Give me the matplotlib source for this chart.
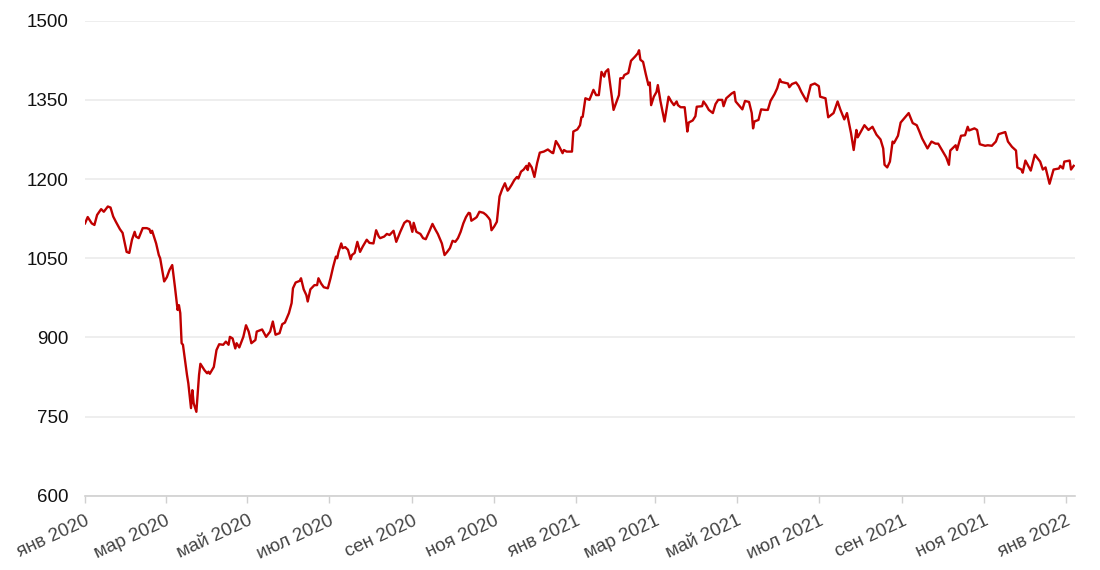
import pandas as pd
import matplotlib
matplotlib.use("Agg")
import matplotlib.pyplot as plt

# значения
dates = [
    "2020-01-01", "2020-01-03", "2020-01-06", "2020-01-08", "2020-01-10", "2020-01-13", "2020-01-15",
    "2020-01-18", "2020-01-20", "2020-01-22", "2020-01-24", "2020-01-27", "2020-01-29", "2020-02-01",
    "2020-02-03", "2020-02-05", "2020-02-07", "2020-02-08", "2020-02-10", "2020-02-13", "2020-02-16",
    "2020-02-18", "2020-02-19", "2020-02-20", "2020-02-23", "2020-02-25", "2020-02-26", "2020-02-29",
    "2020-03-02", "2020-03-04", "2020-03-06", "2020-03-08", "2020-03-10", "2020-03-11", "2020-03-12",
    "2020-03-13", "2020-03-14", "2020-03-17", "2020-03-18", "2020-03-20", "2020-03-21", "2020-03-22",
    "2020-03-24", "2020-03-26", "2020-03-27", "2020-03-30", "2020-04-01", "2020-04-02", "2020-04-03",
    "2020-04-06", "2020-04-08", "2020-04-10", "2020-04-13", "2020-04-15", "2020-04-17", "2020-04-18",
    "2020-04-20", "2020-04-22", "2020-04-23", "2020-04-25", "2020-04-28", "2020-04-30", "2020-05-02",
    "2020-05-04", "2020-05-07", "2020-05-08", "2020-05-12", "2020-05-15", "2020-05-18", "2020-05-20",
    "2020-05-22", "2020-05-25", "2020-05-27", "2020-05-29", "2020-06-01", "2020-06-03", "2020-06-04",
    "2020-06-06", "2020-06-09", "2020-06-10", "2020-06-12", "2020-06-14", "2020-06-15", "2020-06-17",
    "2020-06-20", "2020-06-22", "2020-06-23", "2020-06-25", "2020-06-27", "2020-06-30", "2020-07-02",
    "2020-07-04", "2020-07-06", "2020-07-07", "2020-07-08", "2020-07-10", "2020-07-11", "2020-07-13",
    "2020-07-15", "2020-07-17", "2020-07-18", "2020-07-20", "2020-07-22", "2020-07-24", "2020-07-26",
    "2020-07-29", "2020-07-31", "2020-08-03", "2020-08-05", "2020-08-07", "2020-08-08", "2020-08-11",
    "2020-08-13", "2020-08-15", "2020-08-18", "2020-08-20", "2020-08-23", "2020-08-26", "2020-08-28",
    "2020-08-30", "2020-09-01", "2020-09-02", "2020-09-04", "2020-09-07", "2020-09-09", "2020-09-11",
    "2020-09-14", "2020-09-16", "2020-09-18", "2020-09-20", "2020-09-23", "2020-09-25", "2020-09-27",
    "2020-09-29", "2020-10-01", "2020-10-03", "2020-10-05", "2020-10-07", "2020-10-09", "2020-10-11",
    "2020-10-13", "2020-10-14", "2020-10-15", "2020-10-18", "2020-10-19", "2020-10-21", "2020-10-24",
    "2020-10-26", "2020-10-28", "2020-10-29", "2020-10-30", "2020-11-01", "2020-11-03", "2020-11-05",
    "2020-11-07", "2020-11-09", "2020-11-11", "2020-11-12", "2020-11-14", "2020-11-16", "2020-11-18",
    "2020-11-19", "2020-11-21", "2020-11-23", "2020-11-25", "2020-11-26", "2020-11-27", "2020-11-29",
    "2020-12-01", "2020-12-03", "2020-12-05", "2020-12-08", "2020-12-11", "2020-12-14", "2020-12-15",
    "2020-12-17", "2020-12-19", "2020-12-22", "2020-12-23", "2020-12-25", "2020-12-29", "2020-12-30",
    "2021-01-02", "2021-01-04", "2021-01-05", "2021-01-06", "2021-01-08", "2021-01-11", "2021-01-14",
    "2021-01-16", "2021-01-18", "2021-01-20", "2021-01-22", "2021-01-23", "2021-01-25", "2021-01-26",
    "2021-01-29", "2021-02-02", "2021-02-03", "2021-02-05", "2021-02-06", "2021-02-09", "2021-02-11",
    "2021-02-14", "2021-02-16", "2021-02-17", "2021-02-18", "2021-02-20", "2021-02-22", "2021-02-24",
    "2021-02-25", "2021-02-26", "2021-02-28", "2021-03-02", "2021-03-03", "2021-03-05", "2021-03-08",
    "2021-03-11", "2021-03-13", "2021-03-15", "2021-03-17", "2021-03-18", "2021-03-20", "2021-03-23",
    "2021-03-25", "2021-03-26", "2021-03-29", "2021-03-31", "2021-04-01", "2021-04-05", "2021-04-06",
    "2021-04-08", "2021-04-10", "2021-04-13", "2021-04-15", "2021-04-17", "2021-04-20", "2021-04-21",
    "2021-04-23", "2021-04-27", "2021-04-29", "2021-04-30", "2021-05-03", "2021-05-05", "2021-05-07",
    "2021-05-10", "2021-05-12", "2021-05-13", "2021-05-14", "2021-05-17", "2021-05-19", "2021-05-22",
    "2021-05-24", "2021-05-26", "2021-05-29", "2021-05-31", "2021-06-02", "2021-06-03", "2021-06-08",
    "2021-06-09", "2021-06-11", "2021-06-14", "2021-06-16", "2021-06-18", "2021-06-20", "2021-06-22",
    "2021-06-25", "2021-06-28", "2021-07-01", "2021-07-02", "2021-07-06", "2021-07-08", "2021-07-12",
    "2021-07-15", "2021-07-17", "2021-07-20", "2021-07-22", "2021-07-25", "2021-07-27", "2021-07-29",
    "2021-07-30", "2021-08-02", "2021-08-04", "2021-08-07", "2021-08-10", "2021-08-13", "2021-08-16",
    "2021-08-18", "2021-08-19", "2021-08-21", "2021-08-23", "2021-08-25", "2021-08-26", "2021-08-29",
    "2021-08-31", "2021-09-02", "2021-09-06", "2021-09-09", "2021-09-12", "2021-09-14", "2021-09-16",
    "2021-09-20", "2021-09-23", "2021-09-26", "2021-09-28", "2021-10-01", "2021-10-04", "2021-10-06",
    "2021-10-07", "2021-10-11", "2021-10-12", "2021-10-15", "2021-10-18", "2021-10-20", "2021-10-21",
    "2021-10-25", "2021-10-27", "2021-10-29", "2021-11-02", "2021-11-04", "2021-11-07", "2021-11-10",
    "2021-11-12", "2021-11-17", "2021-11-19", "2021-11-22", "2021-11-25", "2021-11-26", "2021-11-29",
    "2021-11-30", "2021-12-02", "2021-12-06", "2021-12-09", "2021-12-13", "2021-12-15", "2021-12-17",
    "2021-12-20", "2021-12-23", "2021-12-27", "2021-12-28", "2021-12-30", "2021-12-31", "2022-01-04",
    "2022-01-05", "2022-01-07",
]
values = [
    1116, 1128, 1116, 1113, 1132, 1143, 1138,
    1148, 1146, 1129, 1119, 1105, 1098, 1062,
    1060, 1085, 1100, 1091, 1088, 1107, 1107,
    1105, 1098, 1102, 1078, 1056, 1050, 1006,
    1014, 1028, 1037, 996, 952, 961, 946,
    889, 886, 829, 813, 766, 800, 775,
    759, 829, 850, 838, 832, 835, 831,
    844, 876, 887, 886, 892, 886, 901,
    898, 879, 889, 881, 901, 923, 911,
    889, 895, 911, 915, 901, 911, 930,
    905, 908, 925, 928, 946, 965, 993,
    1004, 1007, 1012, 991, 980, 968, 991,
    999, 999, 1012, 1002, 995, 993, 1012,
    1034, 1053, 1050, 1062, 1078, 1069, 1071,
    1066, 1048, 1056, 1060, 1081, 1062, 1072,
    1085, 1079, 1078, 1103, 1091, 1088, 1091,
    1096, 1094, 1102, 1081, 1100, 1117, 1121,
    1119, 1100, 1117, 1100, 1096, 1088, 1086,
    1103, 1115, 1105, 1096, 1078, 1056, 1062,
    1069, 1083, 1081, 1088, 1100, 1116, 1128,
    1136, 1135, 1121, 1126, 1128, 1138, 1136,
    1132, 1126, 1122, 1103, 1110, 1119, 1167,
    1181, 1192, 1178, 1181, 1189, 1198, 1204,
    1201, 1214, 1218, 1225, 1217, 1230, 1222,
    1204, 1230, 1250, 1252, 1256, 1250, 1249,
    1272, 1264, 1249, 1255, 1252, 1252, 1290,
    1294, 1302, 1317, 1318, 1353, 1350, 1369,
    1359, 1359, 1403, 1394, 1403, 1408, 1388,
    1331, 1359, 1391, 1391, 1397, 1401, 1424,
    1432, 1438, 1444, 1426, 1422, 1399, 1378,
    1383, 1340, 1356, 1365, 1378, 1347, 1309,
    1356, 1347, 1340, 1347, 1340, 1336, 1336,
    1290, 1307, 1311, 1319, 1337, 1338, 1347,
    1340, 1331, 1325, 1342, 1350, 1350, 1338,
    1353, 1362, 1365, 1347, 1338, 1332, 1348,
    1346, 1325, 1296, 1309, 1312, 1332, 1331,
    1331, 1348, 1361, 1372, 1389, 1384, 1381,
    1374, 1380, 1383, 1376, 1365, 1356, 1347,
    1378, 1381, 1376, 1356, 1353, 1317, 1325,
    1347, 1332, 1313, 1325, 1287, 1255, 1293,
    1279, 1293, 1302, 1293, 1299, 1284, 1275,
    1258, 1227, 1222, 1233, 1271, 1268, 1282,
    1307, 1313, 1325, 1306, 1302, 1290, 1277,
    1258, 1271, 1267, 1267, 1254, 1241, 1227,
    1254, 1264, 1255, 1282, 1283, 1299, 1292,
    1296, 1293, 1266, 1263, 1264, 1263, 1271,
    1285, 1289, 1271, 1261, 1254, 1222, 1218,
    1212, 1235, 1216, 1246, 1233, 1218, 1222,
    1191, 1218, 1220, 1225, 1220, 1233, 1235,
    1218, 1225,
]

tick_dates = ["2020-01-01", "2020-03-01", "2020-05-01", "2020-07-01", "2020-09-01", "2020-11-01",
              "2021-01-01", "2021-03-01", "2021-05-01", "2021-07-01", "2021-09-01", "2021-11-01",
              "2022-01-01"]
tick_labels = ["янв 2020", "мар 2020", "май 2020", "июл 2020", "сен 2020", "ноя 2020",
               "янв 2021", "мар 2021", "май 2021", "июл 2021", "сен 2021", "ноя 2021",
               "янв 2022"]
y_ticks = [600, 750, 900, 1050, 1200, 1350, 1500]

plt.rcParams['font.family'] = ['Liberation Sans', 'DejaVu Sans']

fig = plt.figure(figsize=(11, 5.7), dpi=100)
ax = fig.add_axes([0.0773, 0.1303, 0.9, 0.8334])

x = pd.to_datetime(dates)
ax.plot(x, values, color="#c00000", lw=1.7, solid_joinstyle="round")

ax.set_ylim(600, 1500)
ax.set_xlim(pd.Timestamp("2020-01-01"), pd.Timestamp("2022-01-08"))
ax.set_yticks(y_ticks)
ax.set_yticklabels([str(v) for v in y_ticks])
ax.grid(axis="y", color="#ebebeb", lw=1.2)
ax.set_axisbelow(True)

ax.set_xticks(pd.to_datetime(tick_dates))
ax.set_xticklabels(tick_labels, rotation=25, ha="right", rotation_mode="anchor")

for s in ["top", "right", "left"]:
    ax.spines[s].set_visible(False)
ax.spines["bottom"].set_color("#d0d0d0")
ax.spines["bottom"].set_linewidth(1.2)

ax.tick_params(axis="y", length=0, pad=12, labelsize=13.5, labelcolor="#111111")
ax.tick_params(axis="x", length=5, width=1, color="#d0d0d0", pad=7,
               labelsize=13.5, labelcolor="#444444")

fig.savefig("out.png", dpi=100, facecolor="white")
